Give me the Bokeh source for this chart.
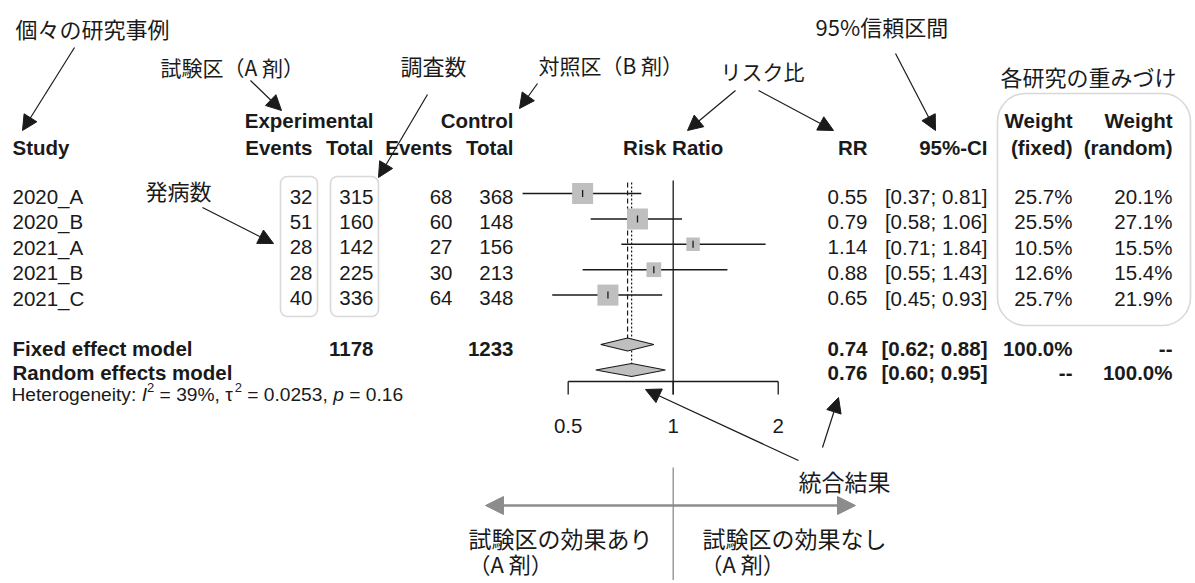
import math
from bokeh.plotting import figure
from bokeh.models import Range1d, LogScale, Arrow, NormalHead, BoxAnnotation
from bokeh.core.properties import value
from bokeh.embed import file_html
from bokeh.resources import INLINE

# ---------------- data ----------------
studies = ["2020_A", "2020_B", "2021_A", "2021_B", "2021_C"]
exp_events = [32, 51, 28, 28, 40]
exp_total = [315, 160, 142, 225, 336]
ctrl_events = [68, 60, 27, 30, 64]
ctrl_total = [368, 148, 156, 213, 348]
rr = [0.55, 0.79, 1.14, 0.88, 0.65]
ci_lo = [0.37, 0.58, 0.71, 0.55, 0.45]
ci_hi = [0.81, 1.06, 1.84, 1.43, 0.93]
w_fixed = [25.7, 25.5, 10.5, 12.6, 25.7]
w_random = [20.1, 27.1, 15.5, 15.4, 21.9]

model_names = ["Fixed effect model", "Random effects model"]
model_exp_total = ["1178", ""]
model_ctrl_total = ["1233", ""]
model_rr = [0.74, 0.76]
model_lo = [0.62, 0.60]
model_hi = [0.88, 0.95]
model_w_fixed = ["100.0%", "--"]
model_w_random = ["--", "100.0%"]

het_i2 = "39%"
het_tau2 = "0.0253"
het_p = "0.16"

ticks = [0.5, 1, 2]
tick_labels = ["0.5", "1", "2"]

# ---------------- figure ----------------
W, H = 1192, 580
p = figure(width=W, height=H, x_range=Range1d(0, W), y_range=Range1d(H, 0),
           output_backend="svg", toolbar_location=None,
           x_axis_location=None, y_axis_location=None, min_border=0,
           outline_line_color=None, background_fill_color="white")
p.grid.visible = False

X1, PX = 672.7, 151.5  # screen position of RR=1 and pixels per log unit
p.extra_x_ranges = {"rr": Range1d(math.exp((0 - X1) / PX), math.exp((W - X1) / PX))}
p.extra_x_scales = {"rr": LogScale()}

EN = value("Liberation Sans")
JP = value("Noto Sans CJK JP")
INK = "#1a1a1a"
GREY = "#bfbfbf"
BOXC = "#808080"
FS = "20.5px"


def txt(x, y, s, size=FS, align="left", font=EN, style="normal", rng="default", color=INK):
    xs = x if isinstance(x, list) else [x]
    ys = y if isinstance(y, list) else [y] * len(xs)
    ss = s if isinstance(s, list) else [s]
    if len(xs) == 1 and len(ss) > 1:
        xs = xs * len(ss)
    if len(ys) == 1 and len(xs) > 1:
        ys = ys * len(xs)
    p.text(x=xs, y=ys, text=ss, text_font=font, text_font_size=size, text_align=align,
           text_baseline="middle", text_font_style=style, text_color=color, x_range_name=rng)


rows = [193 + 25.4 * i for i in range(len(studies))]
trows = [r + 3 for r in rows]
mrows = [344, 369.5]
tmrows = [348, 372]

# ---------------- headers ----------------
txt(12, 147, "Study", style="bold")
txt(373, 120, "Experimental", align="right", style="bold")
txt(513, 120, "Control", align="right", style="bold")
txt(312, 147, "Events", align="right", style="bold")
txt(373, 147, "Total", align="right", style="bold")
txt(452, 147, "Events", align="right", style="bold")
txt(513, 147, "Total", align="right", style="bold")
txt(1, 147, "Risk Ratio", align="center", style="bold", rng="rr")
txt(867, 147, "RR", align="right", style="bold")
txt(987, 147, "95%-CI", align="right", style="bold")
txt(1072, 120, "Weight", align="right", style="bold")
txt(1072, 147, "(fixed)", align="right", style="bold")
txt(1172, 120, "Weight", align="right", style="bold")
txt(1172, 147, "(random)", align="right", style="bold")

# ---------------- study rows ----------------
txt([12] * 5, trows, studies)
txt([312] * 5, trows, [str(v) for v in exp_events], align="right")
txt([373] * 5, trows, [str(v) for v in exp_total], align="right")
txt([452] * 5, trows, [str(v) for v in ctrl_events], align="right")
txt([513] * 5, trows, [str(v) for v in ctrl_total], align="right")
txt([867] * 5, trows, [f"{v:.2f}" for v in rr], align="right")
txt([987] * 5, trows, [f"[{a:.2f}; {b:.2f}]" for a, b in zip(ci_lo, ci_hi)], align="right")
txt([1072] * 5, trows, [f"{v:.1f}%" for v in w_fixed], align="right")
txt([1172] * 5, trows, [f"{v:.1f}%" for v in w_random], align="right")

# ---------------- model rows ----------------
txt([12] * 2, tmrows, model_names, style="bold")
txt([373] * 2, tmrows, model_exp_total, align="right", style="bold")
txt([513] * 2, tmrows, model_ctrl_total, align="right", style="bold")
txt([867] * 2, tmrows, [f"{v:.2f}" for v in model_rr], align="right", style="bold")
txt([987] * 2, tmrows, [f"[{a:.2f}; {b:.2f}]" for a, b in zip(model_lo, model_hi)], align="right", style="bold")
txt([1072] * 2, tmrows, model_w_fixed, align="right", style="bold")
txt([1172] * 2, tmrows, model_w_random, align="right", style="bold")

# heterogeneity line (mixed italic, raised superscripts)
HF = 19.2
SUP = 13.0
ARIAL = {"H": .722, "e": .556, "t": .278, "r": .333, "o": .556, "g": .556, "n": .556, "i": .222,
         "y": .5, ":": .278, " ": .278, "I": .278, "=": .584, "%": .889, ",": .278,
         "τ": .49, ".": .278, "p": .556}


def width(s, fs=HF):
    return sum(ARIAL.get(c, .556) for c in s) * fs


HY = 394
segs = [("Heterogeneity:", "normal", HF, 0, width("Heterogeneity: ")),
        ("I", "italic", HF, 0, width("I")),
        ("2", "normal", SUP, -7, width("2", SUP) + width(" ")),
        (f"= {het_i2}, τ", "normal", HF, 0, width(f"= {het_i2}, τ")),
        ("2", "normal", SUP, -7, width("2", SUP) + width(" ")),
        (f"= {het_tau2},", "normal", HF, 0, width(f"= {het_tau2}, ")),
        ("p", "italic", HF, 0, width("p ")),
        (f"= {het_p}", "normal", HF, 0, 0)]
hx = 11
for s, st, fs, dy, adv in segs:
    txt(hx, HY + dy, s, size=f"{fs}px", style=st)
    hx += adv

# ---------------- forest plot ----------------
p.segment(x0=[1], x1=[1], y0=[180], y1=[394], line_color=INK, line_width=1.3, x_range_name="rr")
p.segment(x0=[model_rr[0]], x1=[model_rr[0]], y0=[182], y1=[mrows[0] - 6.5], line_color=INK,
          line_width=1.2, line_dash="5 3", x_range_name="rr")
p.segment(x0=[model_rr[1]], x1=[model_rr[1]], y0=[182], y1=[mrows[1] - 6.5], line_color=INK,
          line_width=1.2, line_dash="2 2", x_range_name="rr")
p.segment(x0=ci_lo, x1=ci_hi, y0=rows, y1=rows, line_color=INK, line_width=1.5, x_range_name="rr")
p.scatter(x=rr, y=rows, size=[4.15 * math.sqrt(w) for w in w_fixed], marker="square",
          fill_color=GREY, line_color=None, x_range_name="rr")
p.segment(x0=rr, x1=rr, y0=[r - 3.5 for r in rows], y1=[r + 3.5 for r in rows], line_color=INK,
          line_width=1.3, x_range_name="rr")
p.patches(xs=[[a, m, b, m] for a, m, b in zip(model_lo, model_rr, model_hi)],
          ys=[[y, y - 6.5, y, y + 6.5] for y in mrows],
          fill_color=GREY, line_color=INK, line_width=1.2, x_range_name="rr")
# axis
p.segment(x0=[min(ticks)], x1=[max(ticks)], y0=[381], y1=[381], line_color=INK, line_width=1.3, x_range_name="rr")
p.segment(x0=ticks, x1=ticks, y0=[381] * 3, y1=[394] * 3, line_color=INK, line_width=1.3, x_range_name="rr")
txt(ticks, 425, tick_labels, align="center", rng="rr")

# ---------------- boxes ----------------
for l, r, t, b, rad in [(280, 317, 176, 316, 7), (330, 378, 176, 316, 7), (997, 1190, 93, 325, 28)]:
    p.add_layout(BoxAnnotation(left=l, right=r, top=t, bottom=b, fill_color=None, fill_alpha=0,
                               line_color=BOXC, line_width=1.6, border_radius=rad))

# ---------------- japanese annotations ----------------
txt(15, 27, "個々の研究事例", size="22px", font=JP)
txt(160, 66, "試験区（A 剤）", size="21px", font=JP)
txt(400, 64, "調査数", size="22px", font=JP)
txt(538, 64, "対照区（B 剤）", size="21px", font=JP)
txt(720, 70, "リスク比", size="21px", font=JP)
txt(815, 25, "95%信頼区間", size="22px", font=JP)
txt(1000, 75, "各研究の重みづけ", size="22px", font=JP)
txt(145, 189, "発病数", size="22px", font=JP)
txt(798, 480, "統合結果", size="23px", font=JP)
txt(468, 537, "試験区の効果あり", size="23px", font=JP)
txt(468, 562, "（A 剤）", size="22px", font=JP)
txt(702, 537, "試験区の効果なし", size="23px", font=JP)
txt(700, 562, "（A 剤）", size="22px", font=JP)

arrows = [((74, 47), (22, 130)), ((250, 80), (281, 110)), ((427, 94), (378, 177)),
          ((537, 83), (519, 108)), ((735, 90), (687, 130)), ((758, 90), (833, 130)),
          ((895, 53), (935, 130)), ((202, 207), (273, 243)), ((798, 460), (645, 389)),
          ((822, 447), (838, 397))]
for (xs, ys), (xe, ye) in arrows:
    p.add_layout(Arrow(end=NormalHead(size=15, fill_color=INK, line_color=INK, line_width=1),
                       x_start=xs, y_start=ys, x_end=xe, y_end=ye, line_color=INK, line_width=1.2))

# bottom grey double arrow + divider
ARC = "#8c8c8c"
p.segment(x0=[1], x1=[1], y0=[467], y1=[H], line_color=ARC, line_width=1.3, x_range_name="rr")
p.add_layout(Arrow(start=NormalHead(size=18, fill_color=ARC, line_color=ARC, line_width=1),
                   end=NormalHead(size=18, fill_color=ARC, line_color=ARC, line_width=1),
                   x_start=485, y_start=505, x_end=855, y_end=505, line_color=ARC, line_width=2.5))

open("out.html", "w").write(file_html(p, INLINE))
